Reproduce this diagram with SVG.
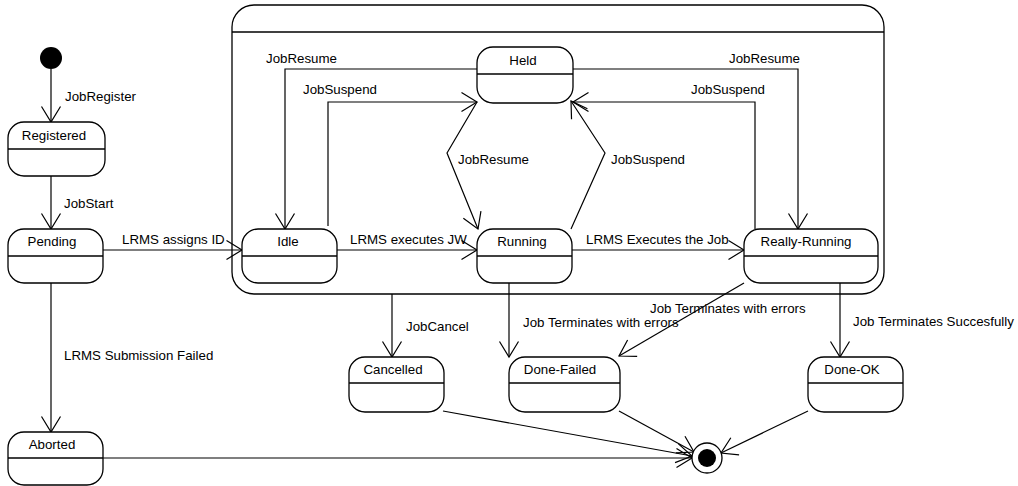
<svg xmlns="http://www.w3.org/2000/svg" width="1018" height="486" viewBox="0 0 1018 486">
<style>
.n{fill:#fff;stroke:#000;stroke-width:1.3}
.d{stroke:#000;stroke-width:1.3}
.c{fill:none;stroke:#000;stroke-width:1.2;marker-end:url(#a)}
text{font-family:"Liberation Sans",Arial,sans-serif;font-size:13.3px;fill:#000}
.m{text-anchor:middle}
</style>
<defs>
<marker id="a" markerUnits="userSpaceOnUse" viewBox="-17 -11 19 22" refX="0" refY="0" markerWidth="19" markerHeight="22" orient="auto" overflow="visible">
<path d="M-15.5,-9.5 L0,0 L-15.5,9.5" fill="none" stroke="#000" stroke-width="1.2"/>
</marker>
</defs>
<rect width="1018" height="486" fill="#fff"/>

<g id="composite">
<rect class="n" x="232" y="5" width="652" height="289" rx="22" ry="22"/>
<line class="d" x1="232" y1="32" x2="884" y2="32"/>
</g>

<g id="connectors">
<line class="c" x1="51" y1="69" x2="51" y2="122"/>
<line class="c" x1="51" y1="176" x2="51" y2="229"/>
<line class="c" x1="51" y1="283" x2="51" y2="432"/>
<line class="c" x1="103" y1="250" x2="242" y2="250"/>
<polyline class="c" points="477,69 285,69 285,229"/>
<polyline class="c" points="328,226 328,102 477,102"/>
<polyline class="c" points="477,102 447,153 478,229"/>
<polyline class="c" points="571,229 605,153 571,101"/>
<polyline class="c" points="573,69 798,69 798,229"/>
<polyline class="c" points="755,229 755,102 573,102"/>
<line class="c" x1="337" y1="250" x2="477" y2="250"/>
<line class="c" x1="572" y1="250" x2="744" y2="250"/>
<line class="c" x1="392" y1="294" x2="392" y2="357"/>
<line class="c" x1="509" y1="283" x2="509" y2="357"/>
<line class="c" x1="744" y1="283" x2="619" y2="356"/>
<line class="c" x1="840" y1="283" x2="840" y2="357"/>
<line class="c" x1="103" y1="458" x2="692" y2="458"/>
<line class="c" x1="443" y1="411" x2="692" y2="456"/>
<line class="c" x1="619" y1="411" x2="694" y2="452"/>
<line class="c" x1="808" y1="411" x2="721" y2="453"/>
</g>

<g id="labels">
<text x="65" y="101">JobRegister</text>
<text x="64" y="208">JobStart</text>
<text x="122" y="244">LRMS assigns ID</text>
<text x="64" y="360">LRMS Submission Failed</text>
<text x="266" y="63">JobResume</text>
<text x="303" y="94">JobSuspend</text>
<text x="729" y="63">JobResume</text>
<text x="691" y="94">JobSuspend</text>
<text x="458" y="164">JobResume</text>
<text x="611" y="164">JobSuspend</text>
<text x="350" y="244">LRMS executes JW</text>
<text x="586" y="244">LRMS Executes the Job</text>
<text x="406" y="331">JobCancel</text>
<text x="523" y="327">Job Terminates with errors</text>
<text x="650" y="313">Job Terminates with errors</text>
<text x="853" y="326">Job Terminates Succesfully</text>
</g>

<g id="initial"><circle cx="51" cy="58" r="11" fill="#000"/></g>

<g id="registered">
<rect class="n" x="8" y="122" width="97" height="54" rx="16"/>
<line class="d" x1="8" y1="149" x2="105" y2="149"/>
<text class="m" x="54" y="140">Registered</text>
</g>
<g id="pending">
<rect class="n" x="8" y="229" width="95" height="54" rx="16"/>
<line class="d" x1="8" y1="256" x2="103" y2="256"/>
<text class="m" x="52" y="246">Pending</text>
</g>
<g id="aborted">
<rect class="n" x="8" y="432" width="95" height="53" rx="16"/>
<line class="d" x1="8" y1="458" x2="103" y2="458"/>
<text class="m" x="52" y="449">Aborted</text>
</g>
<g id="held">
<rect class="n" x="477" y="47" width="96" height="56" rx="16"/>
<line class="d" x1="477" y1="74" x2="573" y2="74"/>
<text class="m" x="523" y="65">Held</text>
</g>
<g id="idle">
<rect class="n" x="242" y="229" width="95" height="54" rx="16"/>
<line class="d" x1="242" y1="256" x2="337" y2="256"/>
<text class="m" x="288" y="246">Idle</text>
</g>
<g id="running">
<rect class="n" x="477" y="229" width="95" height="54" rx="16"/>
<line class="d" x1="477" y1="256" x2="572" y2="256"/>
<text class="m" x="522" y="246">Running</text>
</g>
<g id="really-running">
<rect class="n" x="744" y="229" width="134" height="54" rx="16"/>
<line class="d" x1="744" y1="256" x2="878" y2="256"/>
<text class="m" x="806" y="246">Really-Running</text>
</g>
<g id="cancelled">
<rect class="n" x="349" y="357" width="95" height="55" rx="16"/>
<line class="d" x1="349" y1="383" x2="444" y2="383"/>
<text class="m" x="393" y="374">Cancelled</text>
</g>
<g id="done-failed">
<rect class="n" x="509" y="357" width="111" height="55" rx="16"/>
<line class="d" x1="509" y1="383" x2="620" y2="383"/>
<text class="m" x="560" y="374">Done-Failed</text>
</g>
<g id="done-ok">
<rect class="n" x="808" y="357" width="95" height="55" rx="16"/>
<line class="d" x1="808" y1="383" x2="903" y2="383"/>
<text class="m" x="852" y="374">Done-OK</text>
</g>
<g id="final">
<circle cx="707" cy="458" r="15" fill="#fff" stroke="#000" stroke-width="1.3"/>
<circle cx="707" cy="458" r="9" fill="#000"/>
</g>
</svg>
